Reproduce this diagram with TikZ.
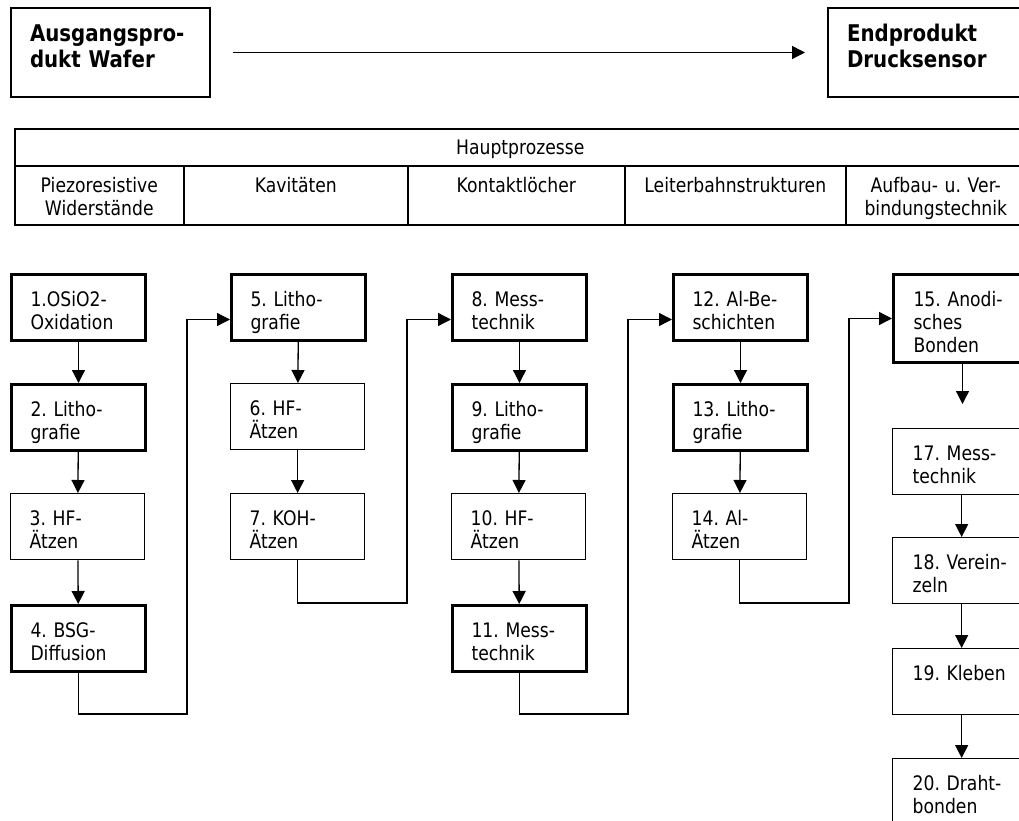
\documentclass[tikz,border=0pt]{standalone}
\usepackage{fontspec}
\setmainfont{DejaVu Sans}[FakeStretch=0.86]
\usetikzlibrary{arrows.meta}
\frenchspacing
\begin{document}
\begin{tikzpicture}[x=1pt,y=-1pt,
  every node/.style={font=\fontsize{20}{23}\selectfont\frenchspacing},
  stepbox/.style={draw, line width=1.3pt, anchor=north west, align=left, inner xsep=19pt, inner ysep=0pt, text width=96pt, text height=31.5pt, text depth=34.5pt},
  boldbox/.style={stepbox, line width=3pt},
  wide/.style={text width=98pt, inner xsep=20pt},
  topbox/.style={draw, line width=2pt, anchor=north west, align=left, inner xsep=19pt, inner ysep=0pt, text width=161pt, text height=34pt, text depth=55pt, font=\bfseries\fontsize{23}{26}\selectfont},
  cell/.style={draw, line width=1.6pt, anchor=north west, align=center, inner xsep=0pt, inner ysep=0pt, text height=27pt, text depth=32pt},
  arr/.style={line width=1.3pt, -{Triangle[length=13pt,width=13pt]}}
]
\useasboundingbox (0,0) rectangle (1019,821);
\clip (0,0) rectangle (1019,821);

% top
\node[topbox] (a) at (10,7) {Ausgangspro-\\dukt Wafer};
\node[topbox] (e) at (827,7) {Endprodukt\\Drucksensor};
\draw[arr] ([xshift=22pt]a.east) -- ([xshift=-22pt]e.west);

% table
\node[cell, text width=1011pt, text height=26pt, text depth=11pt] (hp) at (14,128) {Hauptprozesse};
\node[cell, text width=169pt] (c1) at (14,165) {Piezoresistive\\Widerstände};
\node[cell, text width=224pt] (c2) at (183,165) {Kavitäten};
\node[cell, text width=217pt] (c3) at (407,165) {Kontaktlöcher};
\node[cell, text width=221pt] (c4) at (624,165) {Leiterbahnstrukturen};
\node[cell, text width=180pt] (c5) at (845,165) {Aufbau- u. Ver-\hspace*{16pt}\\bindungstechnik\hspace*{16pt}};

% column 1
\node[boldbox] (b1) at (10,273) {1.OSiO2-\\Oxidation};
\node[boldbox] (b2) at (10,383) {2. Litho-\\grafie};
\node[stepbox] (b3) at (10,493) {3. HF-\\Ätzen};
\node[boldbox] (b4) at (10,604) {4. BSG-\\Diffusion};
% column 2
\node[boldbox] (b5) at (230,273) {5. Litho-\\grafie};
\node[stepbox] (b6) at (230,383) {6. HF-\\Ätzen};
\node[stepbox] (b7) at (230,493) {7. KOH-\\Ätzen};
% column 3
\node[boldbox] (b8) at (451,273) {8. Mess-\\technik};
\node[boldbox] (b9) at (451,383) {9. Litho-\\grafie};
\node[stepbox] (b10) at (451,493) {10. HF-\\Ätzen};
\node[boldbox] (b11) at (451,604) {11. Mess-\\technik};
% column 4
\node[boldbox] (b12) at (672,273) {12. Al-Be-\\schichten};
\node[boldbox] (b13) at (672,383) {13. Litho-\\grafie};
\node[stepbox] (b14) at (672,493) {14. Al-\\Ätzen};
% column 5
\node[boldbox, wide, text depth=56.5pt] (b15) at (892,273) {15. Anodi-\\sches\\Bonden};
\node[stepbox, wide] (b17) at (892,428) {17. Mess-\\technik};
\node[stepbox, wide] (b18) at (892,537) {18. Verein-\\zeln};
\node[stepbox, wide] (b19) at (892,648) {19. Kleben};
\node[stepbox, wide, text depth=70pt] (b20) at (892,758) {20. Draht-\\bonden};

% vertical arrows
\draw[arr] (b1) -- (b2);
\draw[arr] (b2) -- (b3);
\draw[arr] (b3) -- (b4);
\draw[arr] (b5) -- (b6);
\draw[arr] (b6) -- (b7);
\draw[arr] (b8) -- (b9);
\draw[arr] (b9) -- (b10);
\draw[arr] (b10) -- (b11);
\draw[arr] (b12) -- (b13);
\draw[arr] (b13) -- (b14);
\coordinate (t15) at (b15.center |- 0,404);
\draw[arr] (b15) -- (t15);
\draw[arr] (b17) -- (b18);
\draw[arr] (b18) -- (b19);
\draw[arr] (b19) -- (b20);

% elbow connectors
\coordinate (k1) at (187,714);
\coordinate (k2) at (407,603);
\coordinate (k3) at (628,714);
\coordinate (k4) at (849,603);
\draw[arr] (b4) |- (k1) |- ([yshift=-12pt]b5.west);
\draw[arr] (b7) |- (k2) |- ([yshift=-12pt]b8.west);
\draw[arr] (b11) |- (k3) |- ([yshift=-12pt]b12.west);
\draw[arr] (b14) |- (k4) |- (b15.west);
\end{tikzpicture}
\end{document}
